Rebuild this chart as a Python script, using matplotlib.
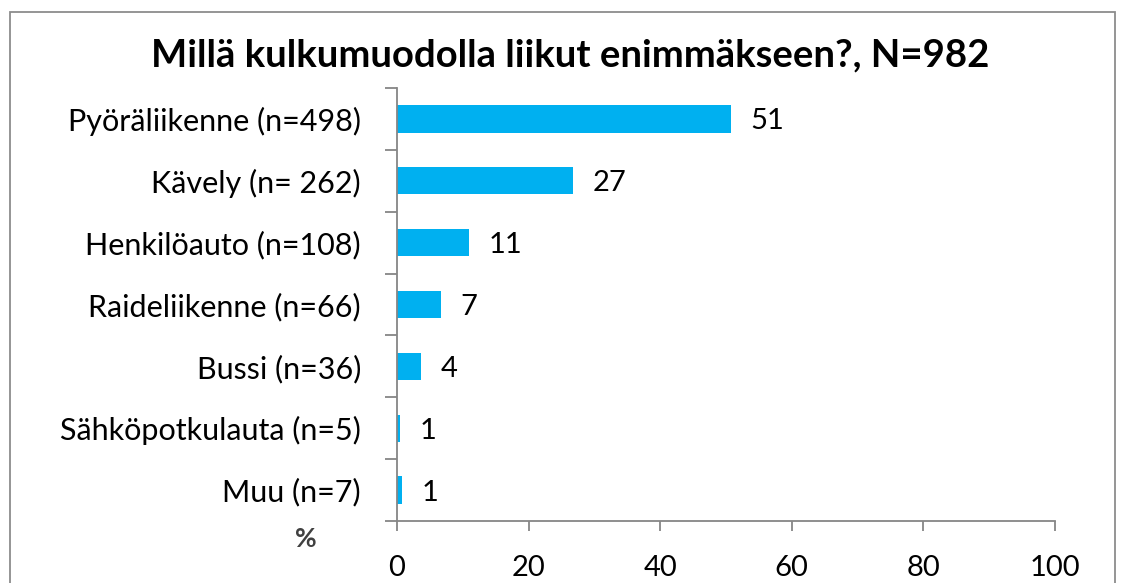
import matplotlib
matplotlib.use("Agg")
import matplotlib.pyplot as plt
import matplotlib.patches as mpatches

plt.rcParams['font.family'] = ['Lato', 'DejaVu Sans']

# ── Data ─────────────────────────────────────────────────────────────────────
categories = ["Pyöräliikenne (n=498)", "Kävely (n= 262)", "Henkilöauto (n=108)",
              "Raideliikenne (n=66)", "Bussi (n=36)", "Sähköpotkulauta (n=5)",
              "Muu (n=7)"]
shares = [50.7, 26.7, 11.0, 6.7, 3.7, 0.5, 0.7]   # %
x_ticks = [0, 20, 40, 60, 80, 100]

TITLE = "Millä kulkumuodolla liikut enimmäkseen?, N=982"
BAR_C = "#00B0F0"
AXIS_C = "#868686"

# ── Figure ───────────────────────────────────────────────────────────────────
fig = plt.figure(figsize=(11.33, 5.83), dpi=100)
ax = fig.add_axes([0.3504, 0.1063, 0.5807, 0.7428])

n = len(categories)
ypos = list(range(n))[::-1]
ax.barh(ypos, shares, height=0.44, color=BAR_C, zorder=2)

for y, v in zip(ypos, shares):
    ax.text(v + 3.0, y - 0.04, f"{int(v + 0.5)}", va="center", ha="left",
            fontsize=21)

ax.set_xlim(0, 100)
ax.set_ylim(-0.5, n - 0.5)
ax.set_xticks(x_ticks)
ax.set_xticklabels([str(t) for t in x_ticks], fontsize=21)
ax.tick_params(axis="x", direction="out", length=7, width=1.3,
               color=AXIS_C, pad=17.5)

# category labels at centers, tick marks at boundaries
ax.set_yticks(ypos)
ax.set_yticklabels(categories, fontsize=22)
ax.tick_params(axis="y", which="major", length=0, pad=26)
ax.set_yticks([i - 0.5 for i in range(n + 1)], minor=True)
ax.tick_params(axis="y", which="minor", direction="out", length=8.5,
               width=1.3, color=AXIS_C)

for s in ("top", "right"):
    ax.spines[s].set_visible(False)
for s in ("left", "bottom"):
    ax.spines[s].set_color(AXIS_C)
    ax.spines[s].set_linewidth(1.3)

fig.text(0.503, 0.905, TITLE, ha="center", va="center", fontsize=27.5,
         fontweight="bold")
fig.text(0.270, 0.0755, "%", ha="center", va="center", fontsize=19,
         fontweight="bold", color="#404040")

# outer chart border
border = mpatches.Rectangle((10 / 1133, -0.05), 1105 / 1133, 1.04 - 6 / 583,
                            transform=fig.transFigure, fill=False,
                            edgecolor="#8C8C8C", linewidth=1.3)
fig.patches.append(border)

fig.savefig("out.png", dpi=100)
